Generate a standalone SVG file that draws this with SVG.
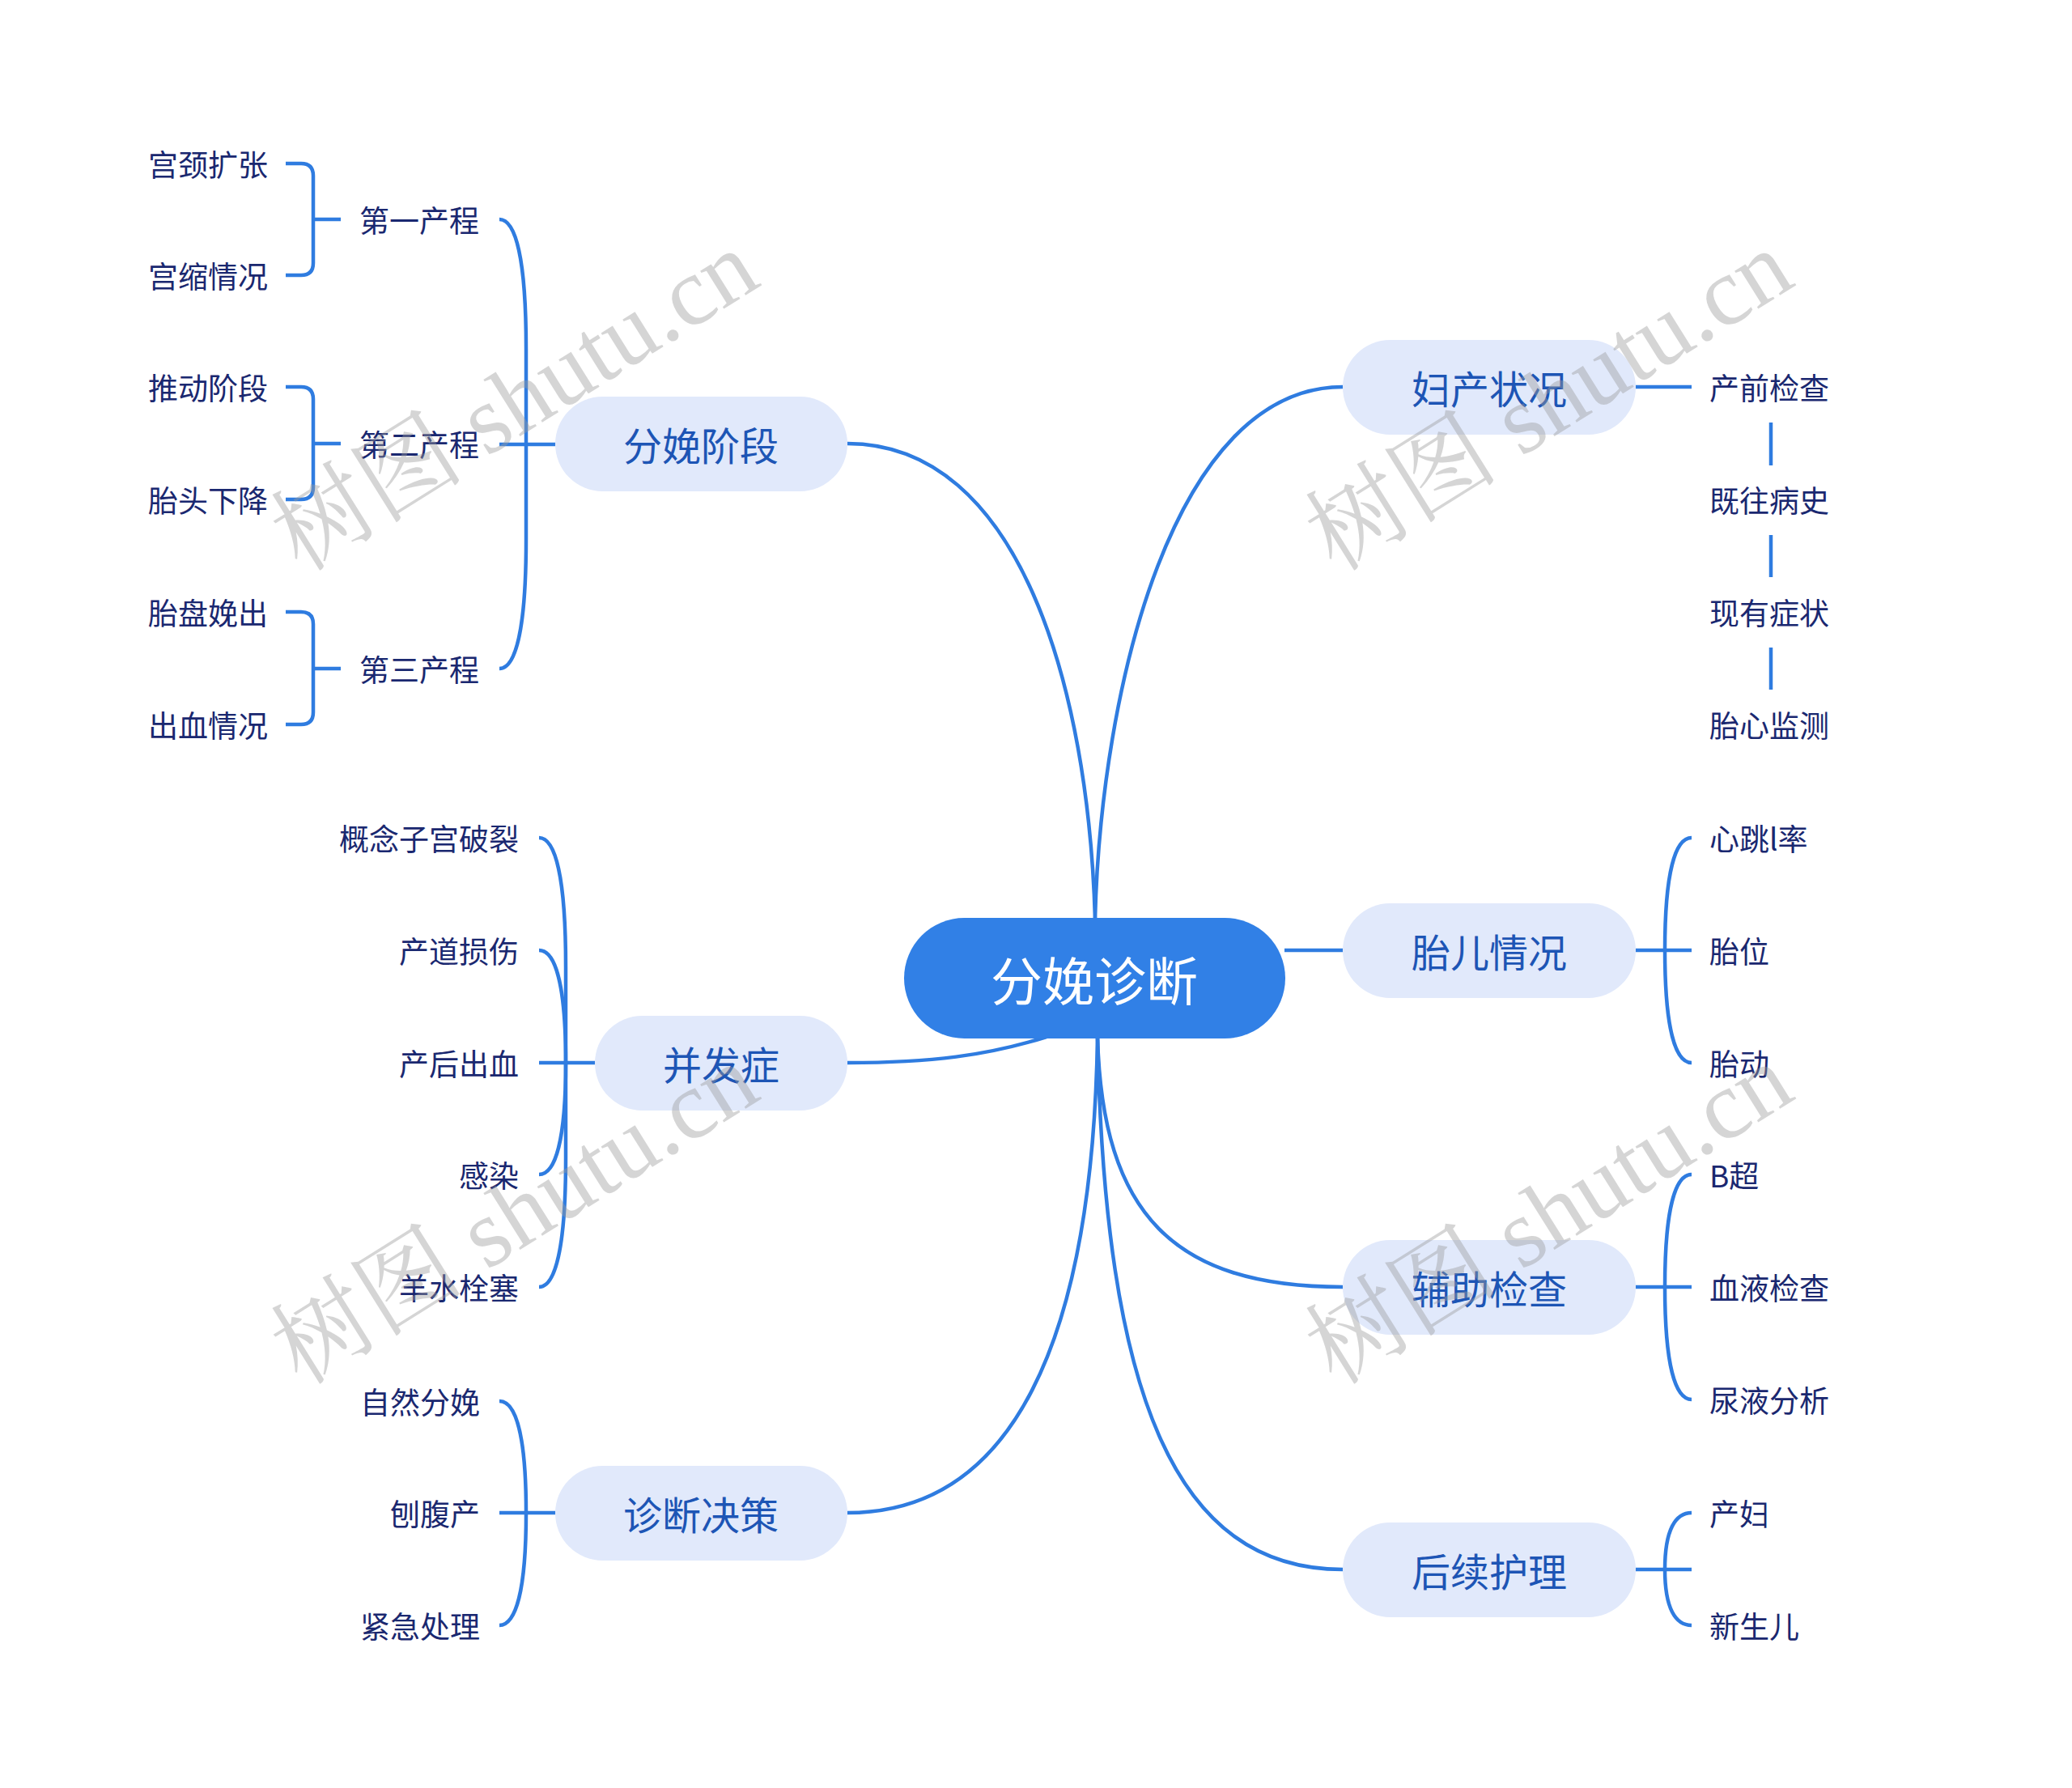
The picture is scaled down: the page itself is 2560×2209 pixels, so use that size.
<svg xmlns="http://www.w3.org/2000/svg" width="2560" height="2209" viewBox="0 0 2560 2209">
<style>
.ln{fill:none;stroke:#2F7CE0;stroke-width:4.5;stroke-linecap:butt}
.root{fill:#3180E6}
.rootT{font-family:"Noto Sans CJK SC","Noto Sans",sans-serif;font-size:64px;fill:#ffffff;text-anchor:middle;dominant-baseline:central}
.n1{fill:#E1E9FB}
.t1{font-family:"Noto Sans CJK SC","Noto Sans",sans-serif;font-size:48px;fill:#1D55B5;text-anchor:middle;dominant-baseline:central}
.t2{font-family:"Noto Sans CJK SC","Noto Sans",sans-serif;font-size:37px;fill:#1A2870;dominant-baseline:central}
.e{text-anchor:end}
.wm{font-family:"Liberation Serif","Noto Serif CJK SC","Noto Sans CJK SC",serif;font-size:120px;fill:#9a9a9a;fill-opacity:0.42}
</style>
<rect width="2560" height="2209" fill="#ffffff"/>
<g id="connectors">
<path class="ln" d="M1047,548 C1260,548 1345,850 1353,1136"/>
<path class="ln" d="M1659,478 C1450,478 1360,850 1353,1136"/>
<path class="ln" d="M1587,1174 L1659,1174"/>
<path class="ln" d="M1356,1281 C1362,1500 1450,1590 1659,1590"/>
<path class="ln" d="M1356,1281 C1365,1720 1450,1939 1659,1939"/>
<path class="ln" d="M1356,1281 C1350,1660 1250,1869 1047,1869"/>
<path class="ln" d="M1293,1281 C1220,1304 1150,1313 1047,1313"/>
<path class="ln" d="M686,549 L617,549"/>
<path class="ln" d="M617,271 C637,271 650,319 650,431 L650,549"/>
<path class="ln" d="M617,826 C637,826 650,778 650,666 L650,549"/>
<path class="ln" d="M353,202 L372,202 Q387,202 387,217 L387,325 Q387,340 372,340 L353,340 M387,271 L421,271"/>
<path class="ln" d="M353,478 L372,478 Q387,478 387,493 L387,602 Q387,617 372,617 L353,617 M387,548 L421,548"/>
<path class="ln" d="M353,756 L372,756 Q387,756 387,771 L387,880 Q387,895 372,895 L353,895 M387,826 L421,826"/>
<path class="ln" d="M735,1313 L666,1313"/>
<path class="ln" d="M666,1035 C686,1035 699,1083 699,1195 L699,1313"/>
<path class="ln" d="M666,1174 C686,1174 699,1216 699,1313"/>
<path class="ln" d="M666,1451 C686,1451 699,1409 699,1313"/>
<path class="ln" d="M666,1590 C686,1590 699,1542 699,1430 L699,1313"/>
<path class="ln" d="M686,1869 L617,1869"/>
<path class="ln" d="M617,1731 C637,1731 650,1772 650,1869"/>
<path class="ln" d="M617,2008 C637,2008 650,1966 650,1869"/>
<path class="ln" d="M2021,478 L2090,478"/>
<path class="ln" d="M2188,522 L2188,575 M2188,661 L2188,713 M2188,800 L2188,852"/>
<path class="ln" d="M2021,1174 L2090,1174"/>
<path class="ln" d="M2090,1035 C2070,1035 2057,1077 2057,1174"/>
<path class="ln" d="M2090,1313 C2070,1313 2057,1271 2057,1174"/>
<path class="ln" d="M2021,1590 L2090,1590"/>
<path class="ln" d="M2090,1451 C2070,1451 2057,1493 2057,1590"/>
<path class="ln" d="M2090,1729 C2070,1729 2057,1687 2057,1590"/>
<path class="ln" d="M2021,1939 L2090,1939"/>
<path class="ln" d="M2090,1869 C2070,1869 2057,1890 2057,1939"/>
<path class="ln" d="M2090,2008 C2070,2008 2057,1987 2057,1939"/>
</g>
<g id="root"><rect class="root" x="1117" y="1134" width="471" height="149" rx="74.5"/><text class="rootT" x="1352" y="1208">分娩诊断</text></g>
<g id="n-fenmianjieduan"><rect class="n1" x="686" y="490" width="361" height="117" rx="58.5"/><text class="t1" x="866" y="548">分娩阶段</text></g>
<g id="n-bingfazheng"><rect class="n1" x="735" y="1255" width="312" height="117" rx="58.5"/><text class="t1" x="891" y="1313">并发症</text></g>
<g id="n-zhenduanjuece"><rect class="n1" x="686" y="1811" width="361" height="117" rx="58.5"/><text class="t1" x="866" y="1869">诊断决策</text></g>
<g id="n-fuchanzhuangkuang"><rect class="n1" x="1659" y="420" width="362" height="117" rx="58.5"/><text class="t1" x="1840" y="478">妇产状况</text></g>
<g id="n-taierqingkuang"><rect class="n1" x="1659" y="1116" width="362" height="117" rx="58.5"/><text class="t1" x="1840" y="1174">胎儿情况</text></g>
<g id="n-fuzhujiancha"><rect class="n1" x="1659" y="1532" width="362" height="117" rx="58.5"/><text class="t1" x="1840" y="1590">辅助检查</text></g>
<g id="n-houxuhuli"><rect class="n1" x="1659" y="1881" width="362" height="117" rx="58.5"/><text class="t1" x="1840" y="1939">后续护理</text></g>
<g id="n-l2-left">
<text class="t2" x="444" y="271">第一产程</text>
<text class="t2" x="444" y="548">第二产程</text>
<text class="t2" x="444" y="826">第三产程</text>
<text class="t2 e" x="331" y="202">宫颈扩张</text>
<text class="t2 e" x="331" y="340">宫缩情况</text>
<text class="t2 e" x="331" y="478">推动阶段</text>
<text class="t2 e" x="331" y="617">胎头下降</text>
<text class="t2 e" x="331" y="756">胎盘娩出</text>
<text class="t2 e" x="331" y="895">出血情况</text>
<text class="t2 e" x="641" y="1035">概念子宫破裂</text>
<text class="t2 e" x="641" y="1174">产道损伤</text>
<text class="t2 e" x="641" y="1313">产后出血</text>
<text class="t2 e" x="641" y="1451">感染</text>
<text class="t2 e" x="641" y="1590">羊水栓塞</text>
<text class="t2 e" x="593" y="1731">自然分娩</text>
<text class="t2 e" x="593" y="1869">刨腹产</text>
<text class="t2 e" x="593" y="2008">紧急处理</text>
</g>
<g id="n-l2-right">
<text class="t2" x="2112" y="478">产前检查</text>
<text class="t2" x="2112" y="617">既往病史</text>
<text class="t2" x="2112" y="756">现有症状</text>
<text class="t2" x="2112" y="895">胎心监测</text>
<text class="t2" x="2112" y="1035">心跳l率</text>
<text class="t2" x="2112" y="1174">胎位</text>
<text class="t2" x="2112" y="1313">胎动</text>
<text class="t2" x="2112" y="1451">B超</text>
<text class="t2" x="2112" y="1590">血液检查</text>
<text class="t2" x="2112" y="1729">尿液分析</text>
<text class="t2" x="2112" y="1869">产妇</text>
<text class="t2" x="2112" y="2008">新生儿</text>
</g>
<g id="watermarks">
<text class="wm" transform="translate(372,708) rotate(-32)">树图 shutu.cn</text>
<text class="wm" transform="translate(1650,708) rotate(-32)">树图 shutu.cn</text>
<text class="wm" transform="translate(372,1713) rotate(-32)">树图 shutu.cn</text>
<text class="wm" transform="translate(1650,1713) rotate(-32)">树图 shutu.cn</text>
</g>
</svg>
